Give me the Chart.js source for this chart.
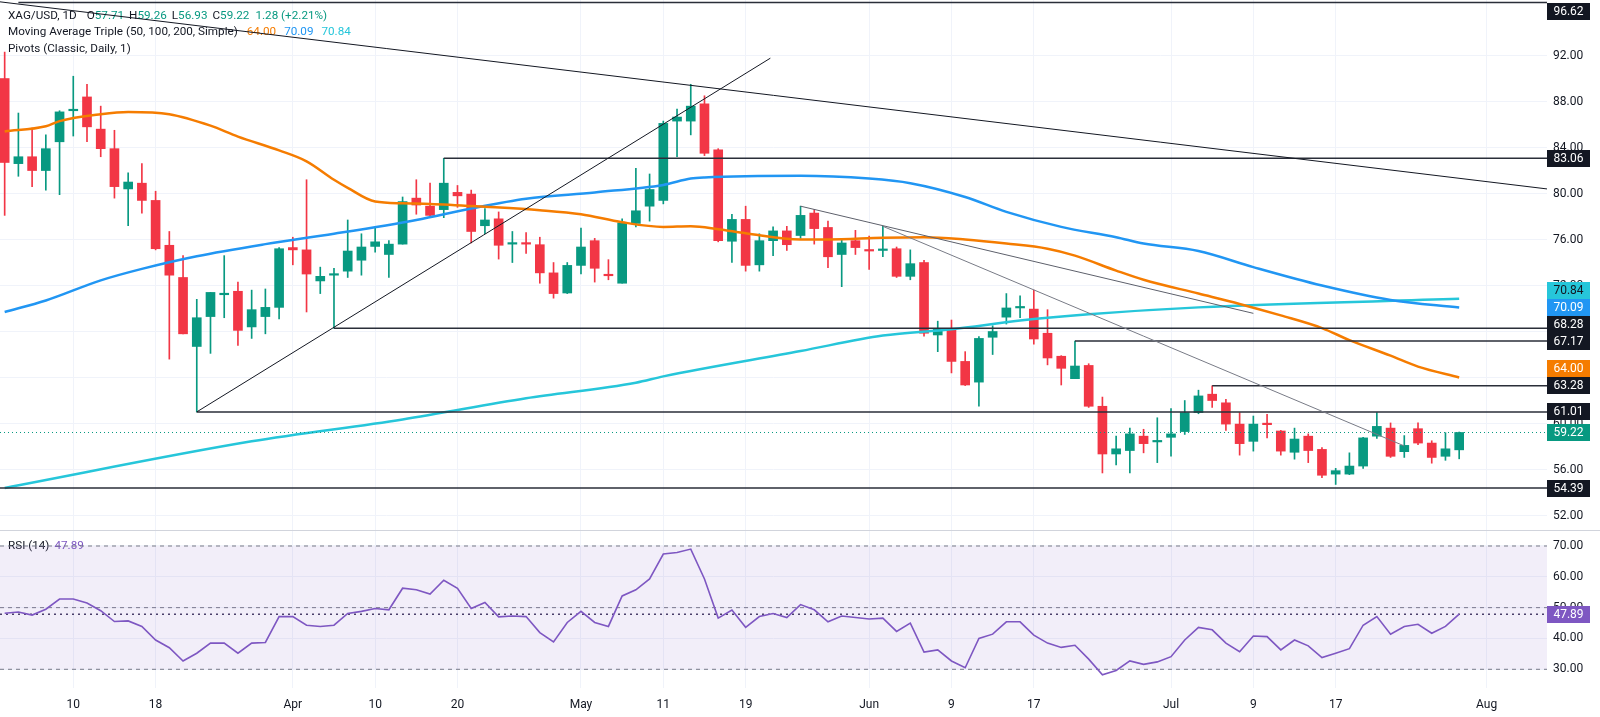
<!DOCTYPE html>
<html>
<head>
<meta charset="utf-8">
<title>XAG/USD 1D</title>
<script src="https://cdn.jsdelivr.net/npm/chart.js@4.4.1/dist/chart.umd.min.js"></script>
<style>
    html, body { margin: 0; padding: 0; background: #ffffff; }
    #wrap { width: 1600px; height: 717px; }
</style>
</head>
<body>
<div id="wrap"><canvas id="chart" width="1600" height="717"></canvas></div>
<script>
"use strict";

// daily candles, bar index 0..106
const opens = [90.0, 82.6, 83.2, 82.0, 84.5, 87.2, 88.4, 85.6, 83.9, 80.4,
    80.9, 79.4, 75.5, 72.7, 66.7, 69.3, 71.2, 71.5, 68.4, 69.3,
    70.1, 75.3, 75.1, 72.4, 72.9, 73.25, 74.2, 75.4, 74.7, 75.6,
    79.6, 78.9, 78.6, 80.1, 79.95, 77.2, 77.8, 75.6, 75.7, 75.55,
    73.1, 71.35, 73.75, 75.9, 72.9, 72.2, 77.4, 78.9, 79.4, 86.3,
    86.3, 87.8, 83.8, 75.85, 77.75, 73.8, 75.9, 76.75, 76.35, 78.3,
    77.05, 74.7, 75.9, 75.05, 75.05, 75.2, 72.8, 74.0, 67.7, 68.2,
    65.4, 63.6, 67.5, 69.25, 70.05, 69.95, 67.85, 65.85, 63.9, 65.05,
    61.5, 57.35, 57.65, 58.9, 58.4, 58.8, 59.3, 60.95, 62.55, 61.8,
    59.95, 58.45, 59.95, 59.35, 57.5, 58.9, 57.75, 55.6, 55.6, 56.3,
    58.9, 59.6, 57.55, 59.55, 58.3, 57.15, 57.71];
const highs = [92.3, 87.0, 85.7, 85.1, 87.2, 90.2, 89.5, 87.6, 85.5, 81.8,
    82.6, 80.2, 76.7, 74.6, 70.8, 71.4, 74.6, 72.3, 71.6, 71.7,
    75.3, 76.2, 81.2, 73.6, 73.5, 77.7, 76.5, 77.0, 75.9, 79.7,
    81.2, 80.9, 83.06, 80.7, 80.3, 78.7, 78.4, 76.7, 76.6, 76.2,
    74.0, 74.0, 77.0, 76.1, 74.25, 77.8, 82.2, 81.7, 86.3, 87.35,
    89.5, 88.5, 83.9, 78.2, 78.9, 76.5, 77.1, 77.15, 78.9, 78.6,
    77.6, 76.1, 76.8, 76.3, 77.15, 75.35, 75.1, 74.2, 68.9, 69.0,
    66.25, 67.55, 68.5, 71.3, 71.1, 71.6, 69.9, 65.9, 67.17, 65.2,
    62.3, 58.9, 59.6, 59.5, 60.5, 61.3, 62.0, 62.9, 63.28, 62.1,
    60.95, 60.65, 60.8, 59.4, 59.6, 59.1, 57.9, 56.1, 57.45, 58.8,
    60.95, 60.05, 58.95, 60.05, 58.5, 59.2, 59.26];
const lows = [78.1, 81.5, 80.6, 80.3, 79.9, 85.0, 84.5, 83.2, 79.6, 77.2,
    78.3, 75.1, 65.6, 67.8, 61.01, 66.1, 69.2, 66.8, 67.4, 67.8,
    69.1, 73.8, 69.7, 71.3, 68.28, 72.7, 72.9, 74.9, 72.7, 75.6,
    78.2, 78.0, 77.9, 78.8, 75.7, 76.5, 74.3, 74.0, 74.8, 72.2,
    70.9, 71.3, 73.0, 72.3, 72.5, 72.2, 77.1, 77.6, 79.1, 83.2,
    85.1, 83.3, 75.8, 74.0, 73.25, 73.25, 74.6, 75.05, 76.1, 75.6,
    73.55, 71.9, 74.7, 73.4, 74.5, 72.7, 72.5, 67.6, 66.25, 64.4,
    63.3, 61.5, 66.0, 68.65, 69.2, 66.9, 65.1, 63.35, 63.9, 61.4,
    55.7, 56.4, 55.7, 57.45, 56.6, 57.15, 59.05, 60.85, 61.4, 59.4,
    57.25, 57.6, 58.75, 57.25, 56.9, 56.6, 55.3, 54.7, 55.55, 56.1,
    58.7, 57.05, 57.05, 58.15, 56.55, 56.8, 56.93];
const closes = [82.7, 83.2, 82.0, 83.9, 87.1, 87.3, 85.8, 83.9, 80.6, 81.0,
    79.4, 75.2, 72.9, 67.8, 69.2, 71.4, 71.3, 68.1, 69.9, 70.1,
    75.2, 75.1, 73.0, 72.8, 73.0, 75.0, 75.35, 75.8, 75.6, 79.3,
    79.0, 78.1, 80.9, 79.8, 76.7, 77.7, 75.5, 75.65, 75.6, 73.1,
    71.3, 73.75, 75.35, 73.5, 72.85, 77.45, 78.5, 80.35, 86.1, 86.65,
    87.6, 83.5, 75.9, 77.75, 73.75, 75.9, 76.75, 75.55, 78.1, 76.95,
    74.5, 75.7, 75.3, 75.0, 75.15, 72.8, 73.9, 67.85, 68.2, 65.4,
    63.35, 67.4, 68.0, 70.05, 70.1, 67.35, 65.7, 64.8, 65.0, 61.5,
    57.35, 57.8, 59.1, 58.25, 58.45, 59.1, 60.95, 62.4, 62.0, 59.95,
    58.25, 59.95, 59.9, 57.6, 58.65, 57.65, 55.5, 55.9, 56.3, 58.75,
    59.75, 57.15, 58.1, 58.3, 57.05, 57.8, 59.22];

// RSI(14), one value per bar
const rsiValues = [48.2, 48.6, 47.6, 49.5, 52.8, 52.8, 51.5, 49.0, 45.5, 45.7,
    43.9, 39.5, 37.0, 32.7, 35.2, 38.5, 38.5, 35.2, 38.5, 38.7,
    47.1, 47.1, 44.3, 43.9, 44.3, 48.1, 48.8, 49.7, 49.3, 56.3,
    55.8, 54.4, 58.9, 56.3, 49.7, 51.7, 47.0, 47.3, 47.1, 41.9,
    38.9, 45.2, 48.8, 45.2, 43.9, 53.8, 55.8, 59.3, 67.4, 67.9,
    69.0, 59.3, 46.6, 49.2, 43.6, 47.1, 48.1, 46.8, 51.0, 49.3,
    45.4, 47.3, 46.8, 46.3, 46.6, 42.3, 45.0, 35.6, 36.3, 32.7,
    30.5, 40.0, 41.4, 45.4, 45.4, 41.1, 38.5, 37.1, 37.8, 33.3,
    28.2, 29.6, 32.7, 31.6, 32.4, 34.1, 39.5, 43.6, 42.8, 38.5,
    35.7, 40.8, 40.6, 36.3, 39.5, 37.6, 33.8, 35.2, 36.7, 44.3,
    47.1, 41.4, 43.9, 44.6, 41.7, 43.9, 47.89];

// moving averages read at selected bars
const ma50Idx = [0, 3, 4, 7, 9, 12, 15, 17, 20, 22, 24, 25, 27, 29, 31, 35, 39, 42, 45, 48, 50, 52, 54, 58, 60, 64, 67, 70, 73, 76, 78, 81, 83, 87, 90, 93, 96, 98, 101, 103, 106];
const ma50Val = [85.4, 85.85, 86.3, 86.9, 87.1, 86.9, 85.9, 84.95, 83.75, 82.8, 81.2, 80.5, 79.3, 79.15, 79.1, 78.85, 78.55, 78.2, 77.5, 77.1, 77.15, 76.9, 76.55, 76.0, 76.0, 76.15, 76.2, 76.0, 75.65, 75.2, 74.6, 73.3, 72.5, 71.3, 70.4, 69.4, 68.3, 67.25, 65.9, 64.95, 64.0];
const ma100Idx = [0, 3, 7, 10, 14, 19, 24, 30, 34, 38, 43, 48, 50, 51, 58, 63, 66, 70, 73, 77, 81, 83, 87, 91, 96, 101, 106];
const ma100Val = [69.7, 70.7, 72.45, 73.45, 74.55, 75.6, 76.5, 77.7, 78.7, 79.55, 80.1, 80.75, 81.3, 81.4, 81.55, 81.3, 80.9, 79.7, 78.4, 77.1, 76.2, 75.65, 75.0, 73.6, 72.0, 70.75, 70.09];
const ma200Idx = [0, 18, 29, 38, 46, 48, 58, 64, 69, 74, 79, 87, 106];
const ma200Val = [54.4, 58.45, 60.35, 62.2, 63.55, 64.1, 66.3, 67.65, 68.2, 68.95, 69.5, 70.1, 70.84];

// pivots (level, first bar) and trend lines (bar, price -> bar, price)
const pivotLevels = [96.62, 83.06, 68.28, 67.17, 63.28, 61.01, 54.39];
const pivotFrom = [1, 32, 24, 78, 88, 14, -0.34];
const trendX1 = [-0.34, 14, 58, 64];
const trendY1 = [96.67, 61.01, 78.9, 77.15];
const trendX2 = [112.4, 55.8, 91, 102];
const trendY2 = [80.4, 91.77, 69.58, 58.05];
const trendColors = ['#131722', '#131722', '#5d606b', '#787b86'];

// axes
const xTickIdx = [5, 11, 21, 27, 33, 42, 48, 54, 63, 69, 75, 85, 91, 97, 108];
const xTickText = ['10', '18', 'Apr', '10', '20', 'May', '11', '19', 'Jun', '9', '17', 'Jul', '9', '17', 'Aug'];
const priceTicks = [52, 56, 60, 64, 68, 72, 76, 80, 84, 88, 92];
const rsiTicks = [30, 40, 50, 60, 70];
const rsiLevels = [70, 50, 30];

const xMin = -0.34, xMax = 112.4;
const GREEN = '#089981', RED = '#f23645', DARK = '#131722';
const ORANGE = '#f57c00', BLUE = '#2196f3', CYAN = '#26c6da', PURPLE = '#7e57c2';
const HEAD_FONT = '11.7px Roboto';

Chart.defaults.font.family = 'Roboto';
Chart.defaults.font.size = 12;
Chart.defaults.color = DARK;

function candleColors() {
    return closes.map(function (c, i) { return c >= opens[i] ? GREEN : RED; });
}

function seriesPoints(idx, vals) {
    return idx.map(function (x, k) { return { x: x, y: vals[k] }; });
}

function hLine(y, from, axis, color, width, dash, order) {
    return {
        type: 'line', yAxisID: axis, order: order,
        data: [{ x: from, y: y }, { x: xMax, y: y }],
        borderColor: color, borderWidth: width, borderDash: dash || [],
        pointRadius: 0, fill: false
    };
}

function drawRun(ctx, x, y, parts) {
    parts.forEach(function (p) {
        ctx.fillStyle = p[1];
        ctx.fillText(p[0], x, y);
        x += ctx.measureText(p[0]).width + (p[2] || 0);
    });
}

function drawTag(ctx, left, y, text, bg, fg) {
    ctx.fillStyle = bg;
    ctx.fillRect(left, Math.round(y - 8.5), 43, 17);
    ctx.fillStyle = fg;
    ctx.textAlign = 'center';
    ctx.fillText(text, left + 21.5, y + 0.5);
}

const paneDecor = {
    id: 'paneDecor',
    beforeDatasetsDraw: function (chart) {
        const ctx = chart.ctx;
        const last = closes.length - 1;
        ctx.save();
        ctx.font = HEAD_FONT;
        ctx.textBaseline = 'middle';
        ctx.textAlign = 'left';
        drawRun(ctx, 8, 16, [
            ['XAG/USD, 1D', DARK, 10], ['O', DARK], [opens[last].toFixed(2), GREEN, 5],
            ['H', DARK], [highs[last].toFixed(2), GREEN, 5], ['L', DARK], [lows[last].toFixed(2), GREEN, 5],
            ['C', DARK], [closes[last].toFixed(2), GREEN, 6], ['1.28 (+2.21%)', GREEN]
        ]);
        drawRun(ctx, 8, 32.5, [
            ['Moving Average Triple (50, 100, 200, Simple)', DARK, 9],
            [ma50Val[ma50Val.length - 1].toFixed(2), ORANGE, 8],
            [ma100Val[ma100Val.length - 1].toFixed(2), BLUE, 8],
            [ma200Val[ma200Val.length - 1].toFixed(2), CYAN]
        ]);
        drawRun(ctx, 8, 49, [['Pivots (Classic, Daily, 1)', DARK]]);
        const rsiTop = chart.scales.rsi.getPixelForValue(70);
        drawRun(ctx, 8, rsiTop, [['RSI (14)', DARK, 5], [rsiValues[last].toFixed(2), PURPLE]]);
        ctx.restore();
    },
    afterDraw: function (chart) {
        const ctx = chart.ctx;
        const area = chart.chartArea;
        const yScale = chart.scales.y;
        const rScale = chart.scales.rsi;
        ctx.save();
        ctx.strokeStyle = '#d1d4dc';
        ctx.lineWidth = 1;
        ctx.beginPath();
        ctx.moveTo(0, Math.round(rScale.top) + 0.5);
        ctx.lineTo(chart.width, Math.round(rScale.top) + 0.5);
        ctx.stroke();

        const tags = pivotLevels.map(function (v) { return { v: v, bg: DARK, fg: '#ffffff' }; });
        tags.push({ v: ma200Val[ma200Val.length - 1], bg: CYAN, fg: DARK });
        tags.push({ v: ma100Val[ma100Val.length - 1], bg: BLUE, fg: '#ffffff' });
        tags.push({ v: ma50Val[ma50Val.length - 1], bg: ORANGE, fg: '#ffffff' });
        tags.push({ v: closes[closes.length - 1], bg: GREEN, fg: '#ffffff' });
        tags.forEach(function (t) { t.y = yScale.getPixelForValue(t.v); });
        tags.sort(function (a, b) { return b.y - a.y; });
        let prev = Infinity;
        tags.forEach(function (t) {
            t.y = Math.min(t.y, prev - 17);
            prev = t.y;
        });
        ctx.font = '12px Roboto';
        ctx.textBaseline = 'middle';
        tags.forEach(function (t) {
            drawTag(ctx, area.right, Math.max(t.y, 11), t.v.toFixed(2), t.bg, t.fg);
        });
        const lastRsi = rsiValues[rsiValues.length - 1];
        drawTag(ctx, area.right, rScale.getPixelForValue(lastRsi), lastRsi.toFixed(2), PURPLE, '#ffffff');
        ctx.restore();
    }
};

function buildDatasets() {
    const colors = candleColors();
    const sets = [];

    // trend lines and pivots on top
    trendX1.forEach(function (x, k) {
        sets.push({
            type: 'line', yAxisID: 'y', order: 1,
            data: [{ x: x, y: trendY1[k] }, { x: trendX2[k], y: trendY2[k] }],
            borderColor: trendColors[k], borderWidth: 1, pointRadius: 0, fill: false
        });
    });
    pivotLevels.forEach(function (v, k) {
        sets.push(hLine(v, pivotFrom[k], 'y', '#2a2e39', 1.5, null, 1));
    });
    sets.push(hLine(closes[closes.length - 1], xMin, 'y', GREEN, 1, [1, 3], 2));

    // moving averages
    [[ma50Idx, ma50Val, ORANGE], [ma100Idx, ma100Val, BLUE], [ma200Idx, ma200Val, CYAN]].forEach(function (m) {
        sets.push({
            type: 'line', yAxisID: 'y', order: 3,
            data: seriesPoints(m[0], m[1]),
            borderColor: m[2], borderWidth: 2.5, pointRadius: 0,
            cubicInterpolationMode: 'monotone', fill: false
        });
    });

    // candle bodies and wicks as floating bars
    sets.push({
        type: 'bar', yAxisID: 'y', order: 4, grouped: false,
        data: opens.map(function (o, i) { return { x: i, y: [o, closes[i]] }; }),
        backgroundColor: colors, barThickness: 9, minBarLength: 1.5, borderWidth: 0
    });
    sets.push({
        type: 'bar', yAxisID: 'y', order: 5, grouped: false,
        data: lows.map(function (l, i) { return { x: i, y: [l, highs[i]] }; }),
        backgroundColor: colors, barThickness: 1, borderWidth: 0
    });

    // RSI pane
    sets.push({
        type: 'line', yAxisID: 'rsi', order: 2,
        data: rsiValues.map(function (v, i) { return { x: i, y: v }; }),
        borderColor: PURPLE, borderWidth: 1.6, pointRadius: 0, tension: 0, fill: false
    });
    sets.push(hLine(rsiValues[rsiValues.length - 1], xMin, 'rsi', '#4a3f6b', 1.5, [2, 4], 2));
    const band = hLine(rsiLevels[0], xMin, 'rsi', '#787b86', 1, [4, 4], 6);
    band.fill = '+1';
    band.backgroundColor = 'rgba(126, 87, 194, 0.1)';
    sets.push(band);
    sets.push(hLine(rsiLevels[2], xMin, 'rsi', '#787b86', 1, [4, 4], 6));
    sets.push(hLine(rsiLevels[1], xMin, 'rsi', '#787b86', 1, [4, 4], 6));
    return sets;
}

function noPad(scale) {
    scale.paddingTop = 0;
    scale.paddingBottom = 0;
    scale.paddingLeft = 0;
    scale.paddingRight = 0;
}

function render_chart() {
    const ctx = document.getElementById('chart').getContext('2d');
    new Chart(ctx, {
        data: { datasets: buildDatasets() },
        plugins: [paneDecor],
        options: {
            responsive: false,
            animation: false,
            devicePixelRatio: 1,
            layout: { padding: 0 },
            plugins: { legend: { display: false }, tooltip: { enabled: false } },
            scales: {
                x: {
                    type: 'linear', min: xMin, max: xMax, offset: false,
                    afterBuildTicks: function (s) { s.ticks = xTickIdx.map(function (v) { return { value: v }; }); },
                    afterFit: function (s) { s.height = 29; noPad(s); },
                    ticks: {
                        autoSkip: false, maxRotation: 0, padding: 10, color: DARK,
                        callback: function (v) { return xTickText[xTickIdx.indexOf(v)]; }
                    },
                    grid: { color: '#f0f3fa', drawTicks: false, offset: false },
                    border: { display: false }
                },
                y: {
                    type: 'linear', position: 'right', stack: 'pane', stackWeight: 530,
                    min: 50.74, max: 96.83,
                    afterBuildTicks: function (s) { s.ticks = priceTicks.map(function (v) { return { value: v }; }); },
                    afterFit: function (s) { s.width = 53; noPad(s); },
                    ticks: { padding: 6, color: DARK, callback: function (v) { return v.toFixed(2); } },
                    grid: { color: '#f0f3fa', drawTicks: false },
                    border: { display: false }
                },
                rsi: {
                    type: 'linear', position: 'right', stack: 'pane', stackWeight: 158,
                    min: 23.93, max: 75.19,
                    afterBuildTicks: function (s) { s.ticks = rsiTicks.map(function (v) { return { value: v }; }); },
                    afterFit: function (s) { s.width = 53; noPad(s); },
                    ticks: { padding: 6, color: DARK, callback: function (v) { return v.toFixed(2); } },
                    grid: { color: '#f0f3fa', drawTicks: false },
                    border: { display: false }
                }
            }
        }
    });
}

render_chart();
</script>
</body>
</html>
